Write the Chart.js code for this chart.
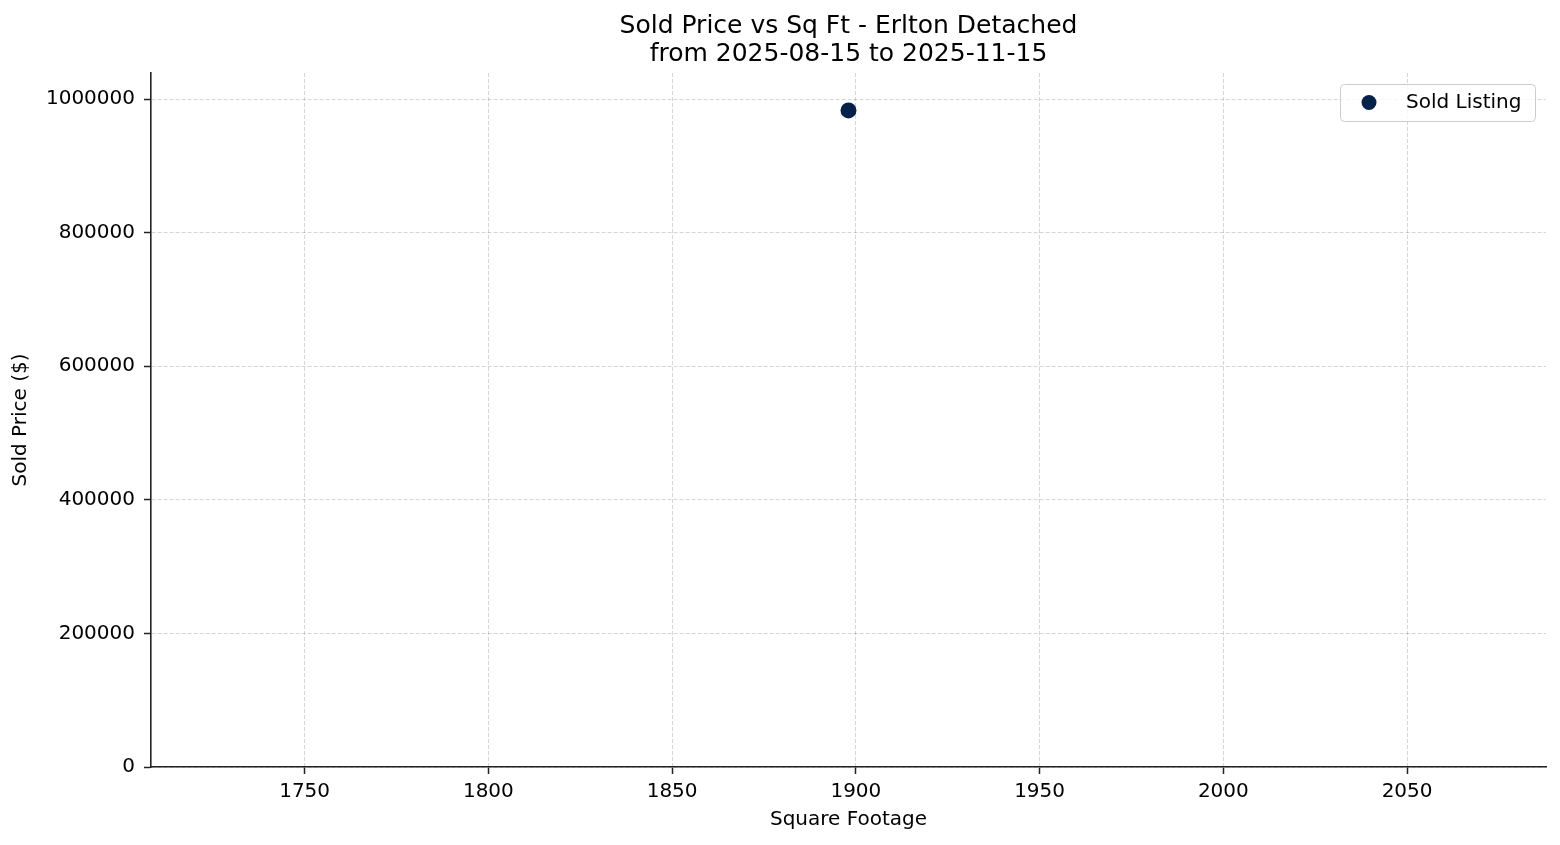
<!DOCTYPE html>
<html>
<head>
<meta charset="utf-8">
<script src="https://cdn.jsdelivr.net/npm/chart.js@4.4.1/dist/chart.umd.min.js"></script>
<style>
html,body{margin:0;padding:0;background:#fff;}
#wrap{width:1560px;height:845px;position:relative;}
</style>
</head>
<body>
<div id="wrap"><canvas id="c" width="1560" height="845"></canvas></div>
<script>
const titleLines = ['Sold Price vs Sq Ft - Erlton Detached', 'from 2025-08-15 to 2025-11-15'];
const xAxisTitle = 'Square Footage';
const yAxisTitle = 'Sold Price ($)';
const seriesLabel = 'Sold Listing';
const sqft = [1898];
const soldPrice = [983000];
const xRange = [1708.2, 2087.8];
const yRange = [0, 1039000];
const xTickValues = [1750, 1800, 1850, 1900, 1950, 2000, 2050];
const yTickValues = [0, 200000, 400000, 600000, 800000, 1000000];

const FONT = "'DejaVu Sans', sans-serif";
const POINT_COLOR = '#04214a';

const centerTitlePlugin = {
  id: 'centerTitle',
  afterLayout(chart) {
    const t = chart.titleBlock;
    if (t) {
      t.left = chart.chartArea.left;
      t.right = chart.chartArea.right;
      t.width = t.right - t.left;
    }
  }
};

const legendPlugin = {
  id: 'boxLegend',
  afterDatasetsDraw(chart) {
    const ctx = chart.ctx;
    const ds = chart.data.datasets[0];
    const x = 1340, y = 84, w = 195, h = 37;
    ctx.save();
    ctx.beginPath();
    ctx.roundRect(x + 0.5, y + 0.5, w, h, 4);
    ctx.fillStyle = 'rgba(255,255,255,0.8)';
    ctx.fill();
    ctx.strokeStyle = '#cccccc';
    ctx.lineWidth = 1;
    ctx.stroke();
    ctx.beginPath();
    ctx.arc(x + 29, y + 18.5, 7.5, 0, Math.PI * 2);
    ctx.fillStyle = ds.backgroundColor;
    ctx.fill();
    ctx.fillStyle = '#000';
    ctx.font = '20px ' + FONT;
    ctx.textBaseline = 'middle';
    ctx.textAlign = 'left';
    ctx.fillText(ds.label, x + 66, y + 19);
    ctx.restore();
  }
};

new Chart(document.getElementById('c'), {
  type: 'scatter',
  data: {
    datasets: [{
      label: seriesLabel,
      data: sqft.map((v, i) => ({x: v, y: soldPrice[i]})),
      backgroundColor: POINT_COLOR,
      borderColor: POINT_COLOR,
      pointRadius: 8,
      pointHoverRadius: 8,
      borderWidth: 0
    }]
  },
  options: {
    responsive: false,
    animation: false,
    devicePixelRatio: 1,
    layout: {padding: {left: 0, right: 14, top: 0, bottom: 0}},
    plugins: {
      legend: {display: false},
      tooltip: {enabled: false},
      title: {
        display: true,
        text: titleLines,
        color: '#000',
        font: {family: FONT, size: 25, weight: 'normal', lineHeight: 1.1},
        padding: {top: 13, bottom: 5}
      }
    },
    scales: {
      x: {
        type: 'linear',
        min: xRange[0], max: xRange[1],
        afterFit(s) { s.height = 78; },
        afterBuildTicks(s) { s.ticks = xTickValues.map(v => ({value: v})); },
        ticks: {color: '#000', font: {family: FONT, size: 20}, padding: 6, maxRotation: 0, autoSkip: false,
                callback: v => String(v)},
        grid: {color: 'rgba(0,0,0,0.16)', lineWidth: 1, tickLength: 7, tickColor: '#222', tickWidth: 1.5, tickBorderDash: []},
        border: {display: true, color: '#222', width: 1.6, dash: [4, 2]},
        title: {display: true, text: xAxisTitle, color: '#000', font: {family: FONT, size: 20}, padding: {top: 0, bottom: 13}}
      },
      y: {
        type: 'linear',
        min: yRange[0], max: yRange[1],
        afterFit(s) { s.width = 151; },
        afterBuildTicks(s) { s.ticks = yTickValues.map(v => ({value: v})); },
        ticks: {color: '#000', font: {family: FONT, size: 20}, padding: 9, autoSkip: false,
                callback: v => String(v)},
        grid: {color: 'rgba(0,0,0,0.16)', lineWidth: 1, tickLength: 7, tickColor: '#222', tickWidth: 1.5, tickBorderDash: []},
        border: {display: true, color: '#222', width: 1.6, dash: [4, 2]},
        title: {display: true, text: yAxisTitle, color: '#000', font: {family: FONT, size: 20}, padding: {top: 9, bottom: 0}}
      }
    }
  },
  plugins: [centerTitlePlugin, legendPlugin]
});
</script>
</body>
</html>
